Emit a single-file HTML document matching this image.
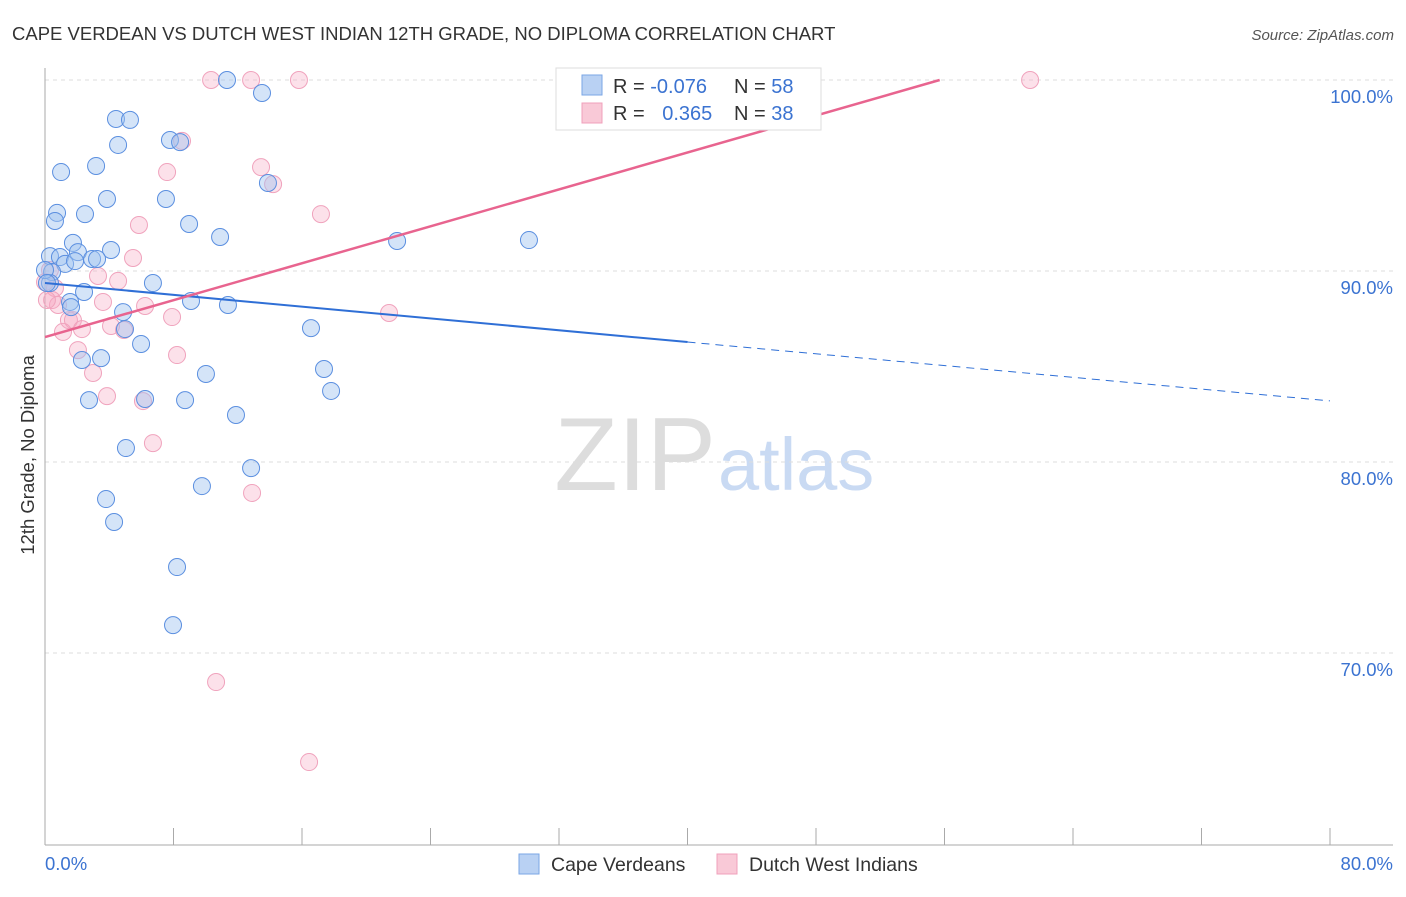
<!DOCTYPE html>
<html><head><meta charset="utf-8"><style>
body{margin:0;background:#fff;font-family:"Liberation Sans",sans-serif}
svg text{font-family:"Liberation Sans",sans-serif}
</style></head><body>
<svg id="chart" width="1406" height="892">
<text x="12" y="40" font-size="18.5" fill="#333">CAPE VERDEAN VS DUTCH WEST INDIAN 12TH GRADE, NO DIPLOMA CORRELATION CHART</text>
<text x="1394" y="40" font-size="15" fill="#555" text-anchor="end" font-style="italic">Source: ZipAtlas.com</text>
<text x="716" y="490" font-size="104" fill="#ddd" text-anchor="end" font-family="Liberation Serif">ZIP</text>
<text x="718" y="490" font-size="74" fill="#c9daf3">atlas</text>
<g id="grid"></g><g id="axes"></g><g id="pts"></g><g id="lines"></g>
<text transform="translate(34,455) rotate(-90)" font-size="18.5" fill="#333" text-anchor="middle">12th Grade, No Diploma</text>
<text x="45" y="870" font-size="18.5" fill="#3b73d1">0.0%</text>
<text x="1393" y="870" font-size="18.5" fill="#3b73d1" text-anchor="end">80.0%</text>
<g>
<rect x="556" y="68" width="265" height="62" fill="#fff" stroke="#ddd"/>
<rect x="582" y="75" width="20" height="20" fill="#b9d1f3" stroke="#7aa6e6"/>
<rect x="582" y="103" width="20" height="20" fill="#f9c9d7" stroke="#f0a0bb"/>
<text x="613" y="93" font-size="20" fill="#333">R = <tspan fill="#3b73d1">-0.076</tspan></text>
<text x="734" y="93" font-size="20" fill="#333">N = <tspan fill="#3b73d1">58</tspan></text>
<text x="613" y="120" font-size="20" fill="#333">R = <tspan fill="#3b73d1" dx="12">0.365</tspan></text>
<text x="734" y="120" font-size="20" fill="#333">N = <tspan fill="#3b73d1">38</tspan></text>
</g>
<g><rect x="519" y="854" width="20" height="20" fill="#b9d1f3" stroke="#7aa6e6"/><text x="551" y="871" font-size="19.5" fill="#333">Cape Verdeans</text></g>
<g><rect x="717" y="854" width="20" height="20" fill="#f9c9d7" stroke="#f0a0bb"/><text x="749" y="871" font-size="19.5" fill="#333">Dutch West Indians</text></g>
</svg>
<script>
const yTicks=[100,90,80,70];
const xTickVals=[0,8,16,24,32,40,48,56,64,72,80];
const blueX=[11.33,13.51,4.42,5.29,4.55,7.78,8.41,1.0,3.18,13.88,3.86,7.53,0.75,2.49,0.62,8.97,10.9,21.92,30.13,1.74,4.11,2.05,0.31,0.93,2.93,3.24,1.25,1.87,0.44,6.72,0.31,2.43,1.56,9.09,11.39,1.62,4.86,4.98,16.56,5.98,3.49,2.3,17.37,10.02,17.81,2.74,6.23,8.72,11.89,5.04,12.83,9.77,3.8,4.3,8.22,7.97,0,0.12];
const blueY=[100,99.32,97.96,97.91,96.6,96.86,96.75,95.18,95.5,94.61,93.77,93.77,93.04,92.98,92.62,92.46,91.78,91.57,91.62,91.47,91.1,90.99,90.78,90.73,90.63,90.63,90.37,90.52,89.95,89.37,89.37,88.9,88.38,88.43,88.22,88.11,87.85,86.96,87.01,86.18,85.44,85.34,84.87,84.61,83.72,83.24,83.3,83.24,82.46,80.73,79.68,78.74,78.06,76.86,74.5,71.46,90.05,89.37];
const pinkX=[10.34,12.83,15.81,61.33,8.53,7.6,13.45,14.2,17.18,5.85,5.48,3.3,4.55,0.62,0.44,3.61,0.81,6.23,7.91,21.42,1.49,1.74,2.3,4.11,1.12,4.92,2.05,8.22,2.99,3.86,6.1,6.72,12.89,10.65,16.44,0.12,0.31,0];
const pinkY=[100,100,100,100,96.81,95.18,95.44,94.55,92.98,92.41,90.68,89.74,89.48,89.11,88.48,88.38,88.22,88.17,87.59,87.8,87.43,87.43,86.96,87.12,86.81,86.91,85.86,85.6,84.66,83.45,83.19,80.99,78.38,68.48,64.29,88.48,90.05,89.42];
const blueTrend=[89.37,86.28,83.2];
const pinkTrend=[86.54,100];
const NS="http://www.w3.org/2000/svg";
const sx=v=>45+v/80*1285, sy=v=>80+(100-v)*19.1;
function mk(t,a,p){const e=document.createElementNS(NS,t);for(const k in a)e.setAttribute(k,a[k]);p.appendChild(e);return e;}
const grid=document.getElementById('grid'),axes=document.getElementById('axes'),pts=document.getElementById('pts'),lines=document.getElementById('lines');
yTicks.forEach(t=>{
 const l=mk('line',{x1:45,x2:1393,y1:sy(t),y2:sy(t),stroke:'#ddd','stroke-dasharray':'4,4'},grid);
 
 
 const tx=mk('text',{x:1393,y:sy(t)+23,'font-size':18.5,fill:'#3b73d1','text-anchor':'end'},grid);
 tx.textContent=t.toFixed(1)+'%';
 
 
});
const ya=mk('line',{x1:45,x2:45,y1:68,y2:845,stroke:'#aaa'},axes);


const xa=mk('line',{x1:45,x2:1393,y1:845,y2:845,stroke:'#aaa'},axes);


xTickVals.forEach(v=>{
 const t=mk('line',{x1:sx(v),x2:sx(v),y1:828,y2:845,stroke:'#aaa'},axes);
 
 
});
function dots(X,Y,fill,stroke,name){X.forEach((x,i)=>{
 const c=mk('circle',{cx:sx(x),cy:sy(Y[i]),r:8.5,fill:fill,stroke:stroke,'stroke-width':1},pts);
 
 
});}
dots(pinkX,pinkY,'rgba(245,170,195,0.35)','#f0a3bd','dutch-west-indian-point');
dots(blueX,blueY,'rgba(160,196,240,0.45)','#5b8fe0','cape-verdean-point');
const b1=mk('line',{x1:sx(0),y1:sy(blueTrend[0]),x2:sx(40),y2:sy(blueTrend[1]),stroke:'#2f6fd6','stroke-width':2},lines);


const b2=mk('line',{x1:sx(40),y1:sy(blueTrend[1]),x2:sx(80),y2:sy(blueTrend[2]),stroke:'#2f6fd6','stroke-width':1,'stroke-dasharray':'8,6'},lines);


const p1=mk('line',{x1:sx(0),y1:sy(pinkTrend[0]),x2:sx(55.7),y2:sy(pinkTrend[1]),stroke:'#e8648f','stroke-width':2.5},lines);


</script>
</body></html>
